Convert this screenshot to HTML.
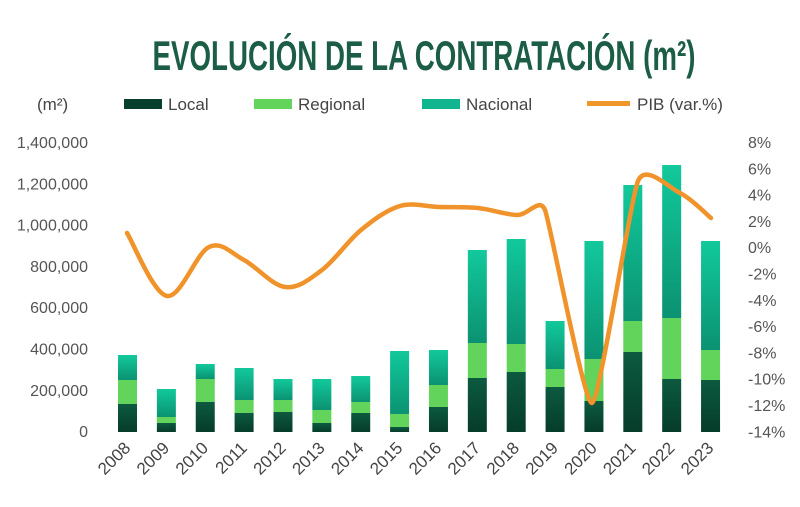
<!DOCTYPE html>
<html><head><meta charset="utf-8"><style>
html,body{margin:0;padding:0;background:#fff;width:800px;height:507px;overflow:hidden}
text{font-family:"Liberation Sans",sans-serif}
</style></head><body>
<svg id="s" width="800" height="507" viewBox="0 0 800 507" xmlns="http://www.w3.org/2000/svg">
<defs>
<linearGradient id="gn" x1="0" y1="0" x2="0" y2="1"><stop offset="0" stop-color="#12c99c"/><stop offset="1" stop-color="#0b9272"/></linearGradient>
<linearGradient id="gl" x1="0" y1="0" x2="0" y2="1"><stop offset="0" stop-color="#0c5a40"/><stop offset="1" stop-color="#063c2a"/></linearGradient>
</defs>
<text x="424" y="70" text-anchor="middle" font-size="42" font-weight="bold" fill="#1b5e45" transform="translate(424,0) scale(0.66,1) translate(-424,0)">EVOLUCIÓN DE LA CONTRATACIÓN (m²)</text>
<g font-size="17" fill="#444">
<text x="37" y="110">(m²)</text>
<rect x="124" y="99" width="38" height="10" fill="#063f2c"/><text x="168" y="110">Local</text>
<rect x="254" y="99" width="38" height="10" fill="#62d35b"/><text x="298" y="110">Regional</text>
<rect x="422" y="99" width="38" height="10" fill="#10b58f"/><text x="466" y="110">Nacional</text>
<rect x="587" y="101" width="43" height="5" fill="#f0962a"/><text x="637" y="110">PIB (var.%)</text>
</g>
<g id="ax" font-size="16" fill="#555"></g>
<g id="bars"></g>
<path id="ln" fill="none" stroke="#f0932a" stroke-width="4.5" stroke-linecap="round" stroke-linejoin="round"/>
<g id="yr" font-size="17" fill="#444"></g>
</svg>
<script>
var ns="http://www.w3.org/2000/svg";
function el(t,a,p,txt){var e=document.createElementNS(ns,t);for(var k in a)e.setAttribute(k,a[k]);if(txt!==undefined)e.textContent=txt;document.getElementById(p).appendChild(e);return e;}
var lv=["1,400,000","1,200,000","1,000,000","800,000","600,000","400,000","200,000","0"];
var rv=["8%","6%","4%","2%","0%","-2%","-4%","-6%","-8%","-10%","-12%","-14%"];
for(var i=0;i<8;i++){el("text",{x:88,y:148+i*41.3,"text-anchor":"end"},"ax",lv[i]);}
for(var i=0;i<12;i++){el("text",{x:748,y:148+i*26.3},"ax",rv[i]);}
var d=[[355,380,404],[389,417,423],[364,379,402],[368,400,413],[379,400,412],[379,410,423],[376,402,413],[351,414,427],[350,385,407],[250,343,378],[239,344,372],[321,369,387],[241,359,401],[185,321,352],[165,318,379],[241,350,380]];
var B=432;
for(var i=0;i<16;i++){var cx=127.5+i*38.87,x=cx-9.5;var t=d[i];
el("rect",{x:x,y:t[0],width:19,height:t[1]-t[0],fill:"url(#gn)"},"bars");
el("rect",{x:x,y:t[1],width:19,height:t[2]-t[1],fill:"#62d35b"},"bars");
el("rect",{x:x,y:t[2],width:19,height:B-t[2],fill:"url(#gl)"},"bars");
el("text",{x:cx+4,y:449,"text-anchor":"end",transform:"rotate(-45 "+(cx+4)+" 449)"},"yr",String(2008+i));}
var p=[[127,233],[167,296],[209,247],[244,260],[285,287],[322,270],[361,230],[400,206],[439,207],[478,208],[517,215],[545,210],[592,403],[638,181],[680,193],[711,218]];
var k=[6,6,6,6,6,6,6,6,6,6,6,14,12,12,6,6];
var s="M"+p[0][0]+","+p[0][1];
for(var i=0;i<p.length-1;i++){var p0=p[Math.max(0,i-1)],p1=p[i],p2=p[i+1],p3=p[Math.min(p.length-1,i+2)];
var a=k[i],b=k[i+1];
var c1x=p1[0]+(p2[0]-p0[0])/a,c1y=p1[1]+(p2[1]-p0[1])/a,c2x=p2[0]-(p3[0]-p1[0])/b,c2y=p2[1]-(p3[1]-p1[1])/b;
s+=" C"+c1x+","+c1y+" "+c2x+","+c2y+" "+p2[0]+","+p2[1];}
document.getElementById("ln").setAttribute("d",s);
</script>
</body></html>
